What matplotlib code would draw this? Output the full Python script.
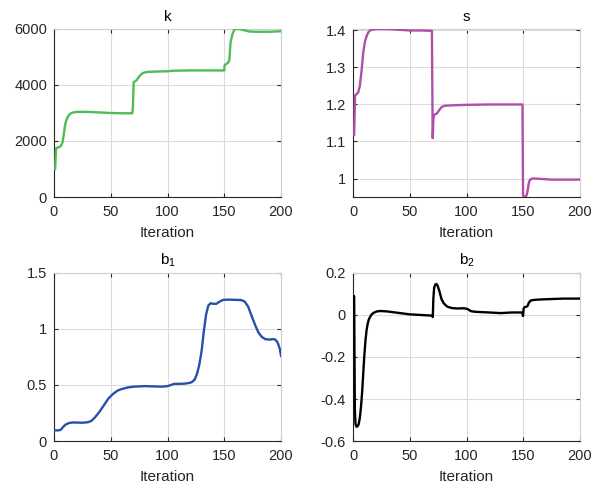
import matplotlib
matplotlib.use("Agg")
import matplotlib.pyplot as plt

# k parameter
k_iter = [1, 1.8, 3, 5, 6.5, 7.5, 8.5, 9.5, 10.5, 12, 13.5, 15, 17, 20, 30, 40, 50, 60, 69,
          69.5, 70.2, 72, 73, 74, 76, 78, 80, 83, 90, 100, 105, 120, 140, 150,
          150.3, 152, 153.5, 154.5, 155.5, 156.5, 157.5, 159, 161, 164, 168, 172, 178, 190, 200]
k_val = [1000, 1740, 1760, 1790, 1850, 1950, 2200, 2500, 2700, 2850, 2940, 2990, 3020, 3040, 3040,
         3020, 3000, 2990, 2990,
         3200, 4100, 4150, 4180, 4250, 4350, 4420, 4450, 4470, 4480, 4490, 4510, 4520, 4520, 4520,
         4700, 4760, 4800, 4900, 5500, 5700, 5850, 5980, 6005, 5990, 5950, 5910, 5900, 5900, 5920]

# s parameter
s_iter = [1, 1.8, 3, 4.5, 6, 7.5, 9, 10.5, 12, 13.5, 15, 18, 22, 30, 40, 50, 60, 69.5,
          70.2, 70.8, 71.5, 74, 76, 78, 80, 83, 90, 100, 120, 149.3,
          149.8, 150.5, 152, 153, 154, 155, 156, 158, 160, 165, 175, 190, 200]
s_val = [1.118, 1.224, 1.228, 1.232, 1.25, 1.29, 1.34, 1.37, 1.385, 1.395, 1.400, 1.403, 1.404,
         1.404, 1.402, 1.400, 1.400, 1.399,
         1.109, 1.16, 1.172, 1.176, 1.185, 1.193, 1.196, 1.197, 1.198, 1.199, 1.200, 1.200,
         0.955, 0.951, 0.951, 0.955, 0.97, 0.99, 0.997, 1.000, 1.000, 0.999, 0.997, 0.997, 0.997]

# b1 parameter
b1_iter = [1, 4, 6, 8, 10, 13, 16, 20, 25, 30, 33, 36, 40, 44, 48, 52, 56, 60, 65, 70, 80, 90,
           95, 100, 103, 106, 110, 115, 120, 122, 124, 126, 128, 130, 132, 134, 136, 138, 140,
           143, 146, 149, 155, 160, 165, 168, 171, 174, 177, 180, 183, 186, 190, 193, 195, 197,
           199, 200]
b1_val = [0.095, 0.095, 0.10, 0.125, 0.145, 0.16, 0.165, 0.165, 0.163, 0.168, 0.18, 0.21, 0.26,
          0.32, 0.38, 0.42, 0.45, 0.465, 0.478, 0.485, 0.49, 0.487, 0.485, 0.49, 0.50, 0.51,
          0.51, 0.512, 0.52, 0.53, 0.55, 0.6, 0.68, 0.8, 0.98, 1.13, 1.21, 1.23, 1.225,
          1.225, 1.245, 1.26, 1.262, 1.26, 1.258, 1.245, 1.2, 1.12, 1.04, 0.97, 0.93, 0.91,
          0.905, 0.91, 0.905, 0.88, 0.82, 0.76]

# b2 parameter
b2_iter = [0.6, 1, 1.6, 2.2, 3, 4, 5, 6, 7, 8, 9, 10, 11, 12, 13, 14, 16, 18, 21, 24, 30, 40,
           50, 60, 69.5, 70.3, 70.8, 71.5, 72.5, 73.5, 74.5, 76, 78, 80, 83, 87, 92, 98, 101,
           104, 108, 120, 130, 140, 149, 149.8, 150.3, 151, 153, 154, 155, 157, 162, 170, 185, 200]
b2_val = [0.09, 0.09, -0.45, -0.52, -0.532, -0.53, -0.52, -0.49, -0.44, -0.37, -0.28, -0.19,
          -0.12, -0.07, -0.04, -0.02, 0.0, 0.01, 0.017, 0.019, 0.017, 0.01, 0.003, 0.0, -0.003,
          -0.01, 0.08, 0.13, 0.145, 0.148, 0.14, 0.115, 0.075, 0.055, 0.04, 0.033, 0.031, 0.032,
          0.028, 0.018, 0.015, 0.012, 0.009, 0.012, 0.012, -0.005, 0.03, 0.037, 0.04, 0.045,
          0.06, 0.07, 0.073, 0.075, 0.078, 0.078]

titles = ["k", "s", r"$\mathregular{b_1}$", r"$\mathregular{b_2}$"]
colors = ["#4dbd55", "#b04fa8", "#2850a8", "#000000"]
ylims = [(0, 6000), (0.95, 1.404), (0, 1.5), (-0.6, 0.2)]
yticks = [[0, 2000, 4000, 6000], [1, 1.1, 1.2, 1.3, 1.4], [0, 0.5, 1, 1.5],
          [-0.6, -0.4, -0.2, 0, 0.2]]
yticklabels = [["0", "2000", "4000", "6000"], ["1", "1.1", "1.2", "1.3", "1.4"],
               ["0", "0.5", "1", "1.5"], ["-0.6", "-0.4", "-0.2", "0", "0.2"]]
series = [(k_iter, k_val), (s_iter, s_val), (b1_iter, b1_val), (b2_iter, b2_val)]

plt.rcParams["font.family"] = ["Liberation Sans", "DejaVu Sans"]
plt.rcParams["mathtext.fontset"] = "custom"
plt.rcParams["mathtext.rm"] = "Liberation Sans"

fig = plt.figure(figsize=(6.02, 4.88), dpi=100)
positions = [
    [0.0897, 0.5963, 0.3771, 0.3443],
    [0.5864, 0.5963, 0.3771, 0.3443],
    [0.0897, 0.0963, 0.3771, 0.3443],
    [0.5864, 0.0963, 0.3771, 0.3443],
]

for i in range(4):
    ax = fig.add_axes(positions[i])
    x, y = series[i]
    ax.plot(x, y, color=colors[i], linewidth=1.7, zorder=3)
    ax.set_xlim(0, 200)
    ax.set_ylim(*ylims[i])
    ax.set_xticks([0, 50, 100, 150, 200])
    ax.set_yticks(yticks[i])
    ax.set_yticklabels(yticklabels[i])
    ax.grid(True, color="#dcdcdc", linewidth=0.8)
    ax.set_axisbelow(True)
    ax.tick_params(direction="in", length=3, labelsize=10.5, colors="#262626",
                   top=True, right=True)
    ax.tick_params(axis="x", pad=6)
    ax.tick_params(axis="y", pad=5)
    for side in ["left", "bottom"]:
        ax.spines[side].set_color("#262626")
        ax.spines[side].set_linewidth(0.8)
    for side in ["top", "right"]:
        ax.spines[side].set_color("#cfcfcf")
        ax.spines[side].set_linewidth(0.8)
    ax.set_title(titles[i], fontsize=11, color="#000000", pad=6)
    ax.set_xlabel("Iteration", fontsize=11, color="#262626", labelpad=5)

fig.savefig("out.png", dpi=100)
